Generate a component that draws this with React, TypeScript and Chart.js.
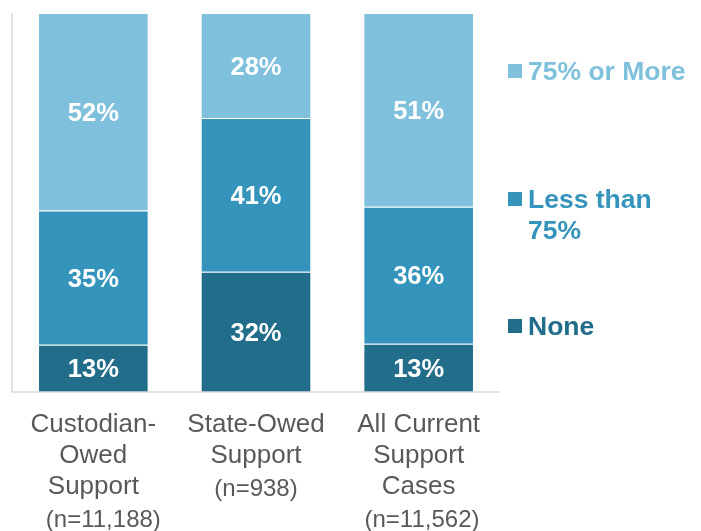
import React, { useEffect, useRef } from "react";
import { Chart, registerables } from "chart.js";

Chart.register(...registerables);

const categories: string[][] = [
  ["Custodian-", "Owed", "Support"],
  ["State-Owed", "Support"],
  ["All Current", "Support", "Cases"],
];
const sampleSizes: string[] = ["   (n=11,188)", "(n=938)", " (n=11,562)"];

const seriesNames: string[] = ["None", "Less than 75%", "75% or More"];
const noneValues: number[] = [12.5, 31.7, 12.7];
const lessThan75Values: number[] = [35.4, 40.6, 36.2];
const moreThan75Values: number[] = [52.1, 27.7, 51.1];

const colors: string[] = ["#226d8a", "#3594bb", "#7fc1dd"];
const legendLines: string[][] = [["None"], ["Less than", "75%"], ["75% or More"]];
const legendY: number[] = [326, 199, 71];

const FONT = "'Liberation Sans', Arial, sans-serif";

const overlayPlugin = {
  id: "overlay",
  afterDatasetsDraw(chart: any) {
    const { ctx, chartArea } = chart;
    ctx.save();
    // axes lines
    ctx.strokeStyle = "#d9d9d9";
    ctx.lineWidth = 1.5;
    ctx.beginPath();
    ctx.moveTo(chartArea.left, chartArea.top);
    ctx.lineTo(chartArea.left, chartArea.bottom);
    ctx.lineTo(chartArea.right, chartArea.bottom);
    ctx.stroke();

    // data labels
    ctx.fillStyle = "#ffffff";
    ctx.font = `bold 25.5px ${FONT}`;
    ctx.textAlign = "center";
    ctx.textBaseline = "middle";
    chart.data.datasets.forEach((ds: any, di: number) => {
      const meta = chart.getDatasetMeta(di);
      meta.data.forEach((bar: any, i: number) => {
        const v = ds.data[i];
        const cy = (bar.y + bar.base) / 2;
        ctx.fillText(`${Math.round(v)}%`, bar.x, cy + 2);
      });
    });

    // x labels
    const xScale = chart.scales.x;
    ctx.fillStyle = "#595959";
    categories.forEach((lines, i) => {
      const x = xScale.getPixelForValue(i);
      ctx.font = `26px ${FONT}`;
      let y = 425;
      lines.forEach((ln) => {
        ctx.fillText(ln, x, y);
        y += 31;
      });
      ctx.font = `24px ${FONT}`;
      ctx.fillText(sampleSizes[i], x, y + 2);
    });

    // legend
    chart.data.datasets.forEach((ds: any, di: number) => {
      const y0 = legendY[di];
      ctx.fillStyle = ds.backgroundColor;
      ctx.fillRect(508, y0 - 7, 14, 14);
      ctx.font = `bold 26.5px ${FONT}`;
      ctx.textAlign = "left";
      legendLines[di].forEach((ln, k) => {
        ctx.fillText(ln, 528, y0 + 2 + k * 31);
      });
    });
    ctx.restore();
  },
};

export default function App() {
  const ref = useRef<HTMLCanvasElement>(null);
  useEffect(() => {
    document.body.style.margin = "0";
    const chart = new Chart(ref.current!, {
      type: "bar",
      data: {
        labels: categories.map((c) => c.join(" ")),
        datasets: [
          { label: seriesNames[0], data: noneValues, backgroundColor: colors[0] },
          { label: seriesNames[1], data: lessThan75Values, backgroundColor: colors[1] },
          { label: seriesNames[2], data: moreThan75Values, backgroundColor: colors[2] },
        ].map((d) => ({
          ...d,
          borderColor: "rgba(255,255,255,0.25)",
          borderWidth: 1,
          categoryPercentage: 1,
          barPercentage: 0.68,
        })),
      },
      options: {
        animation: false,
        responsive: false,
        layout: { padding: { left: 12, top: 13, right: 201, bottom: 139 } },
        plugins: { legend: { display: false }, tooltip: { enabled: false } },
        scales: {
          x: { stacked: true, display: false },
          y: { stacked: true, display: false, min: 0, max: 100 },
        },
      },
      plugins: [overlayPlugin],
    });
    return () => chart.destroy();
  }, []);
  return <canvas ref={ref} width={701} height={531} style={{ display: "block" }} />;
}
